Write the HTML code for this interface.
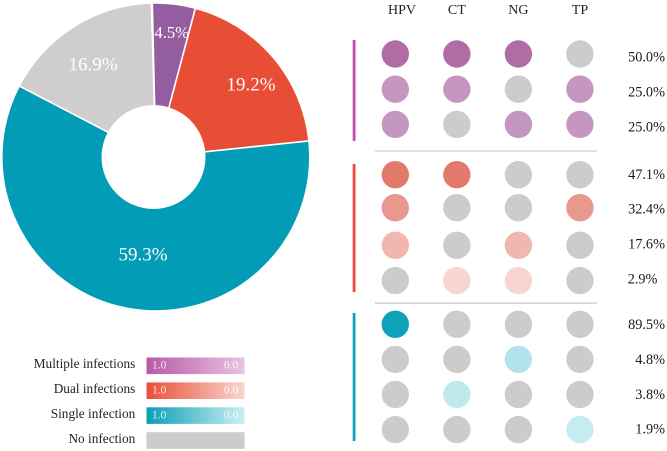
<!DOCTYPE html>
<html>
<head>
<meta charset="utf-8">
<style>
html,body{margin:0;padding:0;background:#fff;}
svg{display:block;font-family:"Liberation Serif",serif;}
</style>
</head>
<body>
<svg id="chart" width="667" height="451" viewBox="0 0 667 451" xmlns="http://www.w3.org/2000/svg">
  <defs>
    <linearGradient id="g-multi"><stop offset="0" stop-color="#b85aa8"/><stop offset="1" stop-color="#e6c4e2"/></linearGradient>
    <linearGradient id="g-dual"><stop offset="0" stop-color="#e94f38"/><stop offset="1" stop-color="#fad6cf"/></linearGradient>
    <linearGradient id="g-single"><stop offset="0" stop-color="#0a9fb8"/><stop offset="1" stop-color="#cbeff3"/></linearGradient>
  </defs>
</svg>
<script>
// ---- data ----
const sliceNames = ['multiple', 'dual', 'single', 'none'];
const sliceValues = [4.5, 19.2, 59.3, 16.9];
const pathogens = ['HPV', 'CT', 'NG', 'TP'];
const multiplePercents = [50.0, 25.0, 25.0];
const multiplePresence = [[1,1,1,0],[1,1,0,1],[1,0,1,1]];
const dualPercents = [47.1, 32.4, 17.6, 2.9];
const dualPresence = [[1,1,0,0],[1,0,0,1],[1,0,1,0],[0,1,1,0]];
const singlePercents = [89.5, 4.8, 3.8, 1.9];
const singlePresence = [[1,0,0,0],[0,0,1,0],[0,1,0,0],[0,0,0,1]];
const legendNames = ['Multiple infections', 'Dual infections', 'Single infection', 'No infection'];

// ---- layout ----
const svg = document.getElementById('chart');
const NS = 'http://www.w3.org/2000/svg';
const sliceColors = {multiple:'#945da0', dual:'#e84e35', single:'#039cb6', none:'#cfcdce'};
const sliceLabelPos = {multiple:[171.7,38], dual:[251,90.7], single:[143,260.7], none:[93,70.7]};
const cx = 155.8, cy = 157, R = 154, holeR = 52, startAngle = -1.3;
const NONE = '#cdcbcc';

function make(tag, attrs, text) {
  const el = document.createElementNS(NS, tag);
  for (const k in attrs) el.setAttribute(k, attrs[k]);
  if (text !== undefined) el.textContent = text;
  svg.appendChild(el);
  return el;
}
function angleScale(v) { return v * 3.6; }
function polar(a, r) {
  const t = a * Math.PI / 180;
  return [cx + r * Math.sin(t), cy - r * Math.cos(t)];
}
function hex(c) { return [1,3,5].map(i => parseInt(c.substr(i,2),16)); }
function colorScale(domain, range) {
  return function (v) {
    let i = 0;
    while (i < domain.length - 2 && v > domain[i + 1]) i++;
    const t = Math.max(0, Math.min(1, (v - domain[i]) / (domain[i + 1] - domain[i])));
    const a = hex(range[i]), b = hex(range[i + 1]);
    return 'rgb(' + a.map((x, k) => Math.round(x + (b[k] - x) * t)).join(',') + ')';
  };
}

// ---- donut ----
let acc = startAngle;
sliceValues.forEach((v, i) => {
  const a0 = acc, a1 = acc + angleScale(v);
  acc = a1;
  const p0 = polar(a0, R), p1 = polar(a1, R);
  const large = a1 - a0 > 180 ? 1 : 0;
  const path = make('path', {
    d: 'M' + cx + ' ' + cy + 'L' + p0[0] + ' ' + p0[1] + 'A' + R + ' ' + R + ' 0 ' + large + ' 1 ' + p1[0] + ' ' + p1[1] + 'Z',
    fill: sliceColors[sliceNames[i]], stroke: '#fff', 'stroke-width': 1.6
  });
  
  
});
const hole = make('circle', {cx: 153.5, cy: 157, r: holeR, fill: '#fff'});


sliceValues.forEach((v, i) => {
  const pos = sliceLabelPos[sliceNames[i]];
  const t = make('text', {x: pos[0], y: pos[1], fill: '#fff', 'text-anchor': 'middle', 'font-size': i === 0 ? 16.6 : 19}, v.toFixed(1) + '%');
  
  
});

// ---- header ----
function colX(i) { return 395.3 + 61.55 * i; }
const headerOffsets = {HPV: 6.7, CT: 0, NG: 0, TP: 0};
pathogens.forEach((p, i) => {
  const t = make('text', {x: colX(i) + headerOffsets[p], y: 14, fill: '#222', 'text-anchor': 'middle', 'font-size': 14}, p);
  
  
});

// ---- dot groups ----
const groups = [
  {key: 'multiple', percents: multiplePercents, presence: multiplePresence, y0: 54, step: 35.2, nudge: {},
   labelY0: 61.6, labelStep: 35, bar: '#c04fb0', barY: 40, barH: 101,
   scale: colorScale([25, 50], ['#c596c0', '#b26ca5']), leftAligned: []},
  {key: 'dual', percents: dualPercents, presence: dualPresence, y0: 174.7, step: 35.3, nudge: {1: -2.3},
   labelY0: 178.8, labelStep: 34.9, bar: '#f04a3e', barY: 164, barH: 128,
   scale: colorScale([2.9, 47.1], ['#f8d5d0', '#e27a6c']), leftAligned: [2.9]},
  {key: 'single', percents: singlePercents, presence: singlePresence, y0: 324.3, step: 35.1, nudge: {},
   labelY0: 329, labelStep: 34.9, bar: '#0ea2ba', barY: 313, barH: 128,
   scale: colorScale([1.9, 3.8, 4.8, 89.5], ['#c6ebf0', '#c0e9ee', '#b0e4ea', '#0ea2ba']), leftAligned: []}
];
groups.forEach(g => {
  const bar = make('rect', {x: 352.7, y: g.barY, width: 2.8, height: g.barH, fill: g.bar});
  
  
  g.percents.forEach((pct, r) => {
    const y = g.y0 + g.step * r + (g.nudge[r] || 0);
    g.presence[r].forEach((on, c) => {
      const dot = make('circle', {cx: colX(c), cy: y, r: 13.7, fill: on ? g.scale(pct) : NONE});
      
      
    });
    const left = g.leftAligned.includes(pct);
    const t = make('text', {
      x: left ? 627.7 : 665, y: g.labelY0 + g.labelStep * r, fill: '#1a1a1a',
      'text-anchor': left ? 'start' : 'end', 'font-size': 14.3
    }, pct.toFixed(1) + '%');
    
    
  });
});
const sep1 = make('rect', {x: 375, y: 150.3, width: 222, height: 1.4, fill: '#d2d2d2'});


const sep2 = make('rect', {x: 375, y: 302.6, width: 222, height: 1, fill: '#bbbbbb'});



// ---- legend ----
const legendFills = ['url(#g-multi)', 'url(#g-dual)', 'url(#g-single)', NONE];
function legendY(i) { return 357.5 + 24.9 * i; }
legendNames.forEach((name, i) => {
  const y = legendY(i);
  const label = make('text', {x: 135.3, y: y + 10.7, fill: '#222', 'text-anchor': 'end', 'font-size': 13.3}, name);
  
  
  const swatch = make('rect', {x: 146.5, y: y, width: 98, height: 16.6, fill: legendFills[i]});
  
  
  if (i < 3) {
    const hi = make('text', {x: 152, y: y + 11.2, fill: '#fff', 'fill-opacity': 0.85, 'font-size': 11.5}, '1.0');
    
    
    const lo = make('text', {x: 238.3, y: y + 11.2, fill: '#fff', 'fill-opacity': 0.85, 'text-anchor': 'end', 'font-size': 11.5}, '0.0');
    
    
  }
});
</script>
</body>
</html>
